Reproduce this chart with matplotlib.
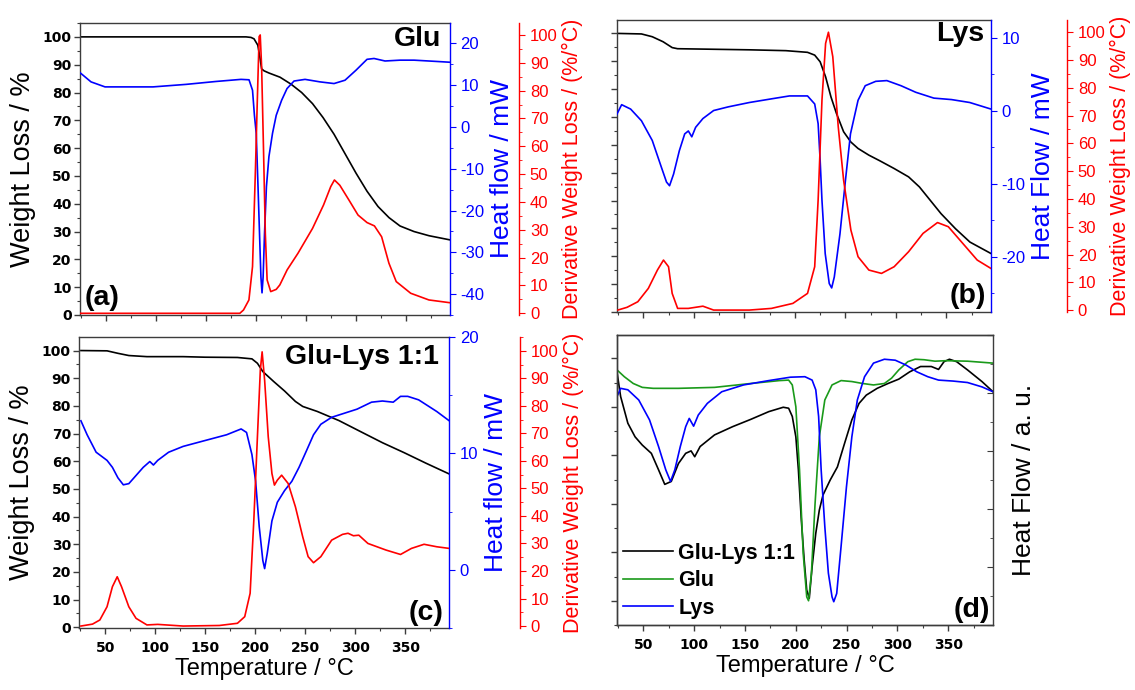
import numpy as np
import matplotlib
matplotlib.use('Agg')
import matplotlib.pyplot as plt
from matplotlib.ticker import MultipleLocator

plt.rcParams['font.family'] = ['Liberation Sans', 'DejaVu Sans']
plt.rcParams['axes.linewidth'] = 1.0
plt.rcParams['axes.unicode_minus'] = False

# =============================================================================
# Data (T in degC)
# =============================================================================

# (a) Glu : TG (%), DSC heat flow (mW), DTG (%/degC)
glu_tg_T = [24, 100, 190, 195, 198, 201.8, 203.8, 205.6, 208, 213, 224, 235, 245.6, 256.5, 267, 278,
            289, 300, 311, 322, 333, 344, 358, 373, 394]
glu_tg = [100, 100, 100, 99.8, 99.3, 97, 92.8, 88.5, 87.8, 87, 85.5, 83, 80, 76, 71, 65,
          58, 51, 44.5, 39, 35, 32, 30, 28.5, 27]
glu_hf_T = [24, 35, 49, 70, 97, 130, 160, 185, 193, 196.5, 198.4, 200.2, 202, 203.5, 204.9, 206,
            207.1, 208.5, 210.4, 212.9, 216.5, 220.2, 225.6, 231, 238, 249, 264, 278, 289, 300,
            311, 318, 329, 344, 358, 380, 394]
glu_hf = [13, 10.8, 9.6, 9.6, 9.6, 10.2, 10.9, 11.4, 11.3, 8.8, 2.8, -1.5, -14.3, -25.5, -35.9, -39.7,
          -35.9, -25.5, -14.3, -7.1, -1.5, 2.8, 6.4, 9.2, 11, 11.4, 10.8, 10.4, 11.2, 13.6,
          16.2, 16.4, 15.8, 16, 16, 15.7, 15.5]
glu_dtg_T = [24, 100, 183.8, 187.5, 192.9, 196.5, 199.5, 201.3, 203.1, 204.2, 205.6, 207.5, 209.3,
             211.1, 214.7, 220.2, 223.8, 231.1, 242, 256.5, 267.5, 274.7, 278.4, 283.8, 292.9,
             302, 311, 318.4, 325.6, 332.9, 340.2, 354.7, 372.9, 394]
glu_dtg = [0, 0, 0, 1.2, 4.8, 16.8, 52.7, 76.6, 99.4, 100, 88.6, 58.7, 28.7,
           12, 7.8, 8.6, 10.2, 15.6, 21.6, 30.5, 38.9, 45.5, 47.9, 46, 40.7,
           35.3, 32.6, 31.4, 27.5, 18, 11.4, 7.2, 4.8, 3.8]

# (b) Lys
lys_tg_T = [23.2, 48.2, 58.9, 69.6, 78.6, 83.9, 119.6, 155.4, 191.1, 212.5, 219.6, 225, 230.4, 235.7,
            241.1, 248.2, 255.4, 262.5, 273.2, 283.9, 298.2, 312.5, 323.2, 333.9, 344.6, 358.9,
            373.2, 394]
lys_tg = [100, 99.8, 98.8, 97, 94.9, 94.5, 94.3, 94.1, 93.8, 93.2, 92.2, 89.8, 84.4, 77.2,
          71.3, 64.7, 61, 58.7, 56.3, 54.3, 51.5, 48.5, 44.9, 40.1, 35.3, 29.9,
          25.1, 21]
lys_hf_T = [23.2, 28.6, 37.5, 48.2, 58.9, 68, 73, 76, 80, 85.7, 91, 94.6, 98, 101.8, 109, 119.6,
            134, 155, 176.8, 194.6, 212.5, 219.6, 223, 225, 226.8, 230, 234, 236.4, 239, 244.6,
            250, 255, 262.5, 269.6, 280, 291, 305, 319.6, 337.5, 355, 373, 394]
lys_hf = [-0.7, 0.8, 0.2, -1.4, -4.1, -7.8, -9.8, -10.3, -8.7, -5.5, -3.2, -2.8, -3.6, -2.3, -1.1, 0,
          0.5, 1.1, 1.6, 2.0, 2.0, 0.9, -1.8, -6.8, -12.3, -19.6, -23.7, -24.3, -22.8, -16.9,
          -9.6, -3.2, 1.4, 3.4, 4.0, 4.1, 3.4, 2.5, 1.7, 1.5, 1.1, 0.2]
lys_dtg_T = [24.8, 34, 44.6, 55, 64, 70, 75, 78.6, 84, 94.6, 109, 119.6, 155, 176.8, 198, 212.5,
             219.6, 223, 226.8, 230.4, 233.2, 237.5, 242.9, 248.2, 255.4, 262.5, 273.2, 285.7,
             298.2, 312.5, 326.8, 341.1, 351.8, 366.1, 380.4, 393.9]
lys_dtg = [0, 1, 3, 7.8, 14.4, 18, 15.6, 6, 0.6, 0.6, 1.4, 0, 0, 0.6, 2.4, 6,
           15.6, 39.6, 75.6, 96, 100, 91.2, 66, 46.8, 28.8, 19.2, 14.4, 13.2,
           15.6, 21, 27.6, 31.5, 30, 24, 18, 15]

# (c) Glu-Lys 1:1
mix_tg_T = [25.7, 51.8, 62.7, 73.6, 91.7, 127.9, 149.6, 182.2, 196.7, 202.2, 207.6, 218.5, 229.3,
            240.2, 247.5, 262, 283.7, 305.4, 327.2, 348.9, 370.7, 394]
mix_tg = [100, 99.9, 99, 98.2, 97.8, 97.8, 97.6, 97.5, 97, 95.4, 92.4, 88.8, 85.4,
          81.6, 79.8, 78, 74.7, 70.7, 66.7, 63.1, 59.3, 55.4]
mix_hf_T = [25.7, 31.9, 40.9, 51.8, 57.2, 62.7, 68.1, 73.6, 80.8, 88, 94.6, 98.2, 102.5, 113.4,
            127.9, 149.6, 171.4, 185.9, 191.3, 196.7, 200.4, 204, 207.6, 209.4, 212, 216.7,
            222.1, 229.3, 236.6, 243.8, 251.1, 258.3, 265.6, 276.4, 287.3, 301.8, 316.3, 327.2,
            338, 345.3, 352.5, 363.4, 381.5, 394]
mix_hf = [12.8, 11.6, 10.1, 9.4, 8.8, 7.9, 7.3, 7.4, 8.1, 8.8, 9.3, 9.0, 9.4, 10.1,
          10.6, 11.1, 11.6, 12.1, 11.8, 9.9, 7.6, 3.7, 0.8, 0.1, 1.4, 4.2,
          5.8, 6.8, 7.6, 8.8, 10.2, 11.6, 12.5, 13.1, 13.4, 13.8, 14.4, 14.5,
          14.4, 14.9, 14.9, 14.6, 13.6, 12.8]
mix_dtg_T = [25.7, 37.3, 44.6, 51.8, 57.2, 62, 66.3, 73.6, 80.8, 91.7, 102.5, 127.9, 164.1, 182.2,
             189.5, 194.9, 198.6, 202.2, 205.1, 206.9, 209.4, 213, 216.7, 219.2, 222.1, 226.4,
             232.9, 240.2, 247.5, 252.9, 258.3, 265.6, 276.4, 287.3, 292.8, 298.2, 303.6, 312.7,
             330.8, 345.3, 356.2, 368.8, 381.5, 394]
mix_dtg = [0, 0.7, 2.2, 7, 14.3, 17.9, 14.3, 7, 2.8, 0.4, 0.6, 0, 0.2, 1,
           3.4, 11.9, 38.5, 68.8, 93, 99.6, 89.3, 68.8, 55.4, 51.2, 53, 54.8,
           51.8, 43.3, 32.4, 25.2, 23, 25.2, 31.2, 33.3, 33.7, 32.8, 33, 30,
           27.6, 26, 28.2, 29.7, 28.8, 28.2]

# (d) DSC comparison, arbitrary units
dsc_mix_T = [24, 27.6, 34.7, 41.8, 48.9, 57.8, 64.9, 71, 77.4, 84.5, 91.6, 96.9, 100.5, 105.8, 120,
             137.8, 155.6, 173.4, 187.6, 192.9, 196.5, 200, 202.5, 205.4, 208.2, 210.7, 213.2, 216,
             219.6, 223.1, 226.7, 233.8, 240.9, 248, 255.1, 262.2, 269.3, 280, 290.7, 301.3, 312,
             322.7, 333.3, 340.4, 345.8, 351.1, 358.2, 368.9, 383.1, 394]
dsc_mix = [4.72, 4.21, 3.66, 3.38, 3.21, 3.04, 2.70, 2.40, 2.46, 2.83, 3.04, 3.09, 2.97, 3.18, 3.42,
           3.59, 3.74, 3.9, 3.99, 3.97, 3.8, 3.38, 2.70, 1.66, 0.84, 0.22, 0.05, 0.70,
           1.39, 1.87, 2.18, 2.49, 2.76, 3.25, 3.73, 4.07, 4.24, 4.38, 4.48, 4.57, 4.72,
           4.83, 4.83, 4.77, 4.93, 4.98, 4.93, 4.76, 4.52, 4.31]
dsc_glu_T = [24, 31.2, 40, 48.9, 59.6, 84.5, 120, 155.6, 184, 192.9, 196.5, 200, 203.6, 207.2, 210.7,
             212.5, 215.3, 218.9, 223.1, 228.5, 235.6, 244.5, 255.1, 265.8, 276.4, 287.1, 294.2,
             301.3, 310.2, 317.3, 326.2, 336.9, 347.5, 368.9, 394]
dsc_glu = [4.76, 4.62, 4.48, 4.40, 4.38, 4.38, 4.40, 4.48, 4.54, 4.55, 4.45, 4.0, 2.70, 0.98, 0.08,
           0.0, 0.56, 2.0, 3.38, 4.14, 4.45, 4.54, 4.52, 4.48, 4.45, 4.48, 4.59,
           4.76, 4.93, 4.98, 4.97, 4.94, 4.95, 4.94, 4.90]
dsc_lys_T = [24, 27.6, 34.7, 45.4, 56, 64.9, 72, 76.7, 80.9, 86.3, 91.6, 95.1, 99.4, 104, 112.9,
             127.1, 148.5, 173.4, 194.7, 208.9, 216, 219.6, 222.4, 224.9, 228.5, 232, 235.6, 237.3,
             240.2, 244.5, 249.8, 255.1, 260.5, 267.6, 276.4, 287.1, 297.8, 308.4, 319.1, 329.8,
             340.4, 354.7, 368.9, 383.1, 394]
dsc_lys = [4.21, 4.38, 4.35, 4.14, 3.73, 3.18, 2.70, 2.46, 2.70, 3.18, 3.59, 3.76, 3.6, 3.83, 4.07,
           4.31, 4.45, 4.54, 4.61, 4.62, 4.55, 4.35, 3.80, 2.70, 1.53, 0.57, 0.08, -0.02,
           0.15, 1.12, 2.35, 3.38, 4.14, 4.62, 4.90, 4.98, 4.96, 4.86, 4.72, 4.62,
           4.55, 4.53, 4.50, 4.41, 4.31]

#%%
# =============================================================================
# Styling helpers
# =============================================================================
BLUE = '#0000ff'
RED = '#ff0000'
GREEN = '#1a9a1a'
AXC = '#3c3c3c'
LW = 1.2


def style_host(ax, ylim, major=10, minor=5, xlabels=False, ylabels=True):
    ax.set_xlim(24, 394)
    ax.set_ylim(*ylim)
    ax.xaxis.set_major_locator(MultipleLocator(50))
    ax.xaxis.set_minor_locator(MultipleLocator(25))
    ax.yaxis.set_major_locator(MultipleLocator(major))
    ax.yaxis.set_minor_locator(MultipleLocator(minor))
    ax.tick_params(which='both', direction='out', top=False, right=False,
                   color=AXC, labelcolor='black', labelsize=10,
                   labelbottom=xlabels, labelleft=ylabels)
    ax.tick_params(which='major', length=4.5, width=1, pad=1.5)
    ax.tick_params(which='minor', length=2.5, width=0.8)
    ax.tick_params(axis='x', pad=5)
    for s in ax.spines.values():
        s.set_color(AXC)
    ax.spines['right'].set_visible(False)
    plt.setp(ax.get_xticklabels() + ax.get_yticklabels(),
             fontfamily='DejaVu Sans', fontweight='bold')


def add_axis(ax, color, ylim, major, minor, offset=0):
    tw = ax.twinx()
    tw.set_ylim(*ylim)
    tw.yaxis.set_major_locator(MultipleLocator(major))
    tw.yaxis.set_minor_locator(MultipleLocator(minor))
    for side in ['left', 'top', 'bottom']:
        tw.spines[side].set_visible(False)
    tw.spines['right'].set_color(color)
    tw.spines['right'].set_position(('outward', offset))
    tw.tick_params(which='both', direction='out', colors=color, labelsize=12)
    tw.tick_params(which='major', length=4.5, pad=3)
    tw.tick_params(which='minor', length=2.5)
    return tw


def panel_tag(ax, txt, x, y, ha, va):
    ax.text(x, y, txt, transform=ax.transAxes, ha=ha, va=va,
            fontsize=20.5, fontweight='bold', zorder=10)


fig = plt.figure(figsize=(11.35, 6.9), dpi=100)

ax_a = fig.add_axes([0.0705, 0.5435, 0.326, 0.4232])
ax_b = fig.add_axes([0.5436, 0.5478, 0.3295, 0.4232])
ax_c = fig.add_axes([0.0698, 0.0899, 0.3260, 0.4217])
ax_d = fig.add_axes([0.5436, 0.0942, 0.3313, 0.4203])

#%%
# =============================================================================
# (a) Glu
# =============================================================================
style_host(ax_a, (0, 105))
ax_a.plot(glu_tg_T, glu_tg, color='black', lw=LW)
ax_a.set_ylabel('Weight Loss / %', fontsize=19.5, labelpad=5)
hf_a = add_axis(ax_a, BLUE, (-45, 24.9), 10, 5)
hf_a.plot(glu_hf_T, glu_hf, color=BLUE, lw=LW)
hf_a.set_ylabel('Heat flow / mW', color=BLUE, fontsize=19, labelpad=4)
dtg_a = add_axis(ax_a, RED, (-0.6, 104.3), 10, 5, offset=50)
dtg_a.plot(glu_dtg_T, glu_dtg, color=RED, lw=LW)
dtg_a.set_ylabel('Derivative Weight Loss / (%/°C)', color=RED, fontsize=15.5, labelpad=3)
panel_tag(ax_a, 'Glu', 0.975, 0.99, 'right', 'top')
panel_tag(ax_a, '(a)', 0.012, 0.012, 'left', 'bottom')

# =============================================================================
# (b) Lys
# =============================================================================
style_host(ax_b, (0, 104.8), ylabels=False)
ax_b.plot(lys_tg_T, lys_tg, color='black', lw=LW)
hf_b = add_axis(ax_b, BLUE, (-27.6, 12.4), 10, 5)
hf_b.plot(lys_hf_T, lys_hf, color=BLUE, lw=LW)
hf_b.set_ylabel('Heat Flow / mW', color=BLUE, fontsize=19, labelpad=4)
dtg_b = add_axis(ax_b, RED, (-0.7, 104.4), 10, 5, offset=55)
dtg_b.plot(lys_dtg_T, lys_dtg, color=RED, lw=LW)
dtg_b.set_ylabel('Derivative Weight Loss / (%/°C)', color=RED, fontsize=15.5, labelpad=3)
panel_tag(ax_b, 'Lys', 0.981, 0.995, 'right', 'top')
panel_tag(ax_b, '(b)', 0.987, 0.012, 'right', 'bottom')

# =============================================================================
# (c) Glu-Lys 1:1
# =============================================================================
style_host(ax_c, (-0.25, 104.9), xlabels=True)
ax_c.plot(mix_tg_T, mix_tg, color='black', lw=LW)
ax_c.set_ylabel('Weight Loss / %', fontsize=19.5, labelpad=5)
ax_c.set_xlabel('Temperature / °C', fontsize=17, labelpad=2)
hf_c = add_axis(ax_c, BLUE, (-5, 20), 10, 5)
hf_c.plot(mix_hf_T, mix_hf, color=BLUE, lw=LW)
hf_c.set_ylabel('Heat flow / mW', color=BLUE, fontsize=19, labelpad=4)
dtg_c = add_axis(ax_c, RED, (-0.7, 105), 10, 5, offset=51)
dtg_c.plot(mix_dtg_T, mix_dtg, color=RED, lw=LW)
dtg_c.set_ylabel('Derivative Weight Loss / (%/°C)', color=RED, fontsize=15.5, labelpad=3)
panel_tag(ax_c, 'Glu-Lys 1:1', 0.973, 0.975, 'right', 'top')
panel_tag(ax_c, '(c)', 0.984, 0.008, 'right', 'bottom')

# =============================================================================
# (d) DSC comparison
# =============================================================================
style_host(ax_d, (-0.5, 5.48), major=1, minor=0.5, xlabels=True, ylabels=False)
ax_d.plot(dsc_mix_T, dsc_mix, color='black', lw=LW, label='Glu-Lys 1:1')
ax_d.plot(dsc_glu_T, dsc_glu, color=GREEN, lw=LW, label='Glu')
ax_d.plot(dsc_lys_T, dsc_lys, color=BLUE, lw=LW, label='Lys')
ax_d.set_xlabel('Temperature / °C', fontsize=17, labelpad=2)
au_d = ax_d.twinx()
au_d.set_ylim(0, 5)
au_d.yaxis.set_major_locator(MultipleLocator(1))
au_d.yaxis.set_minor_locator(MultipleLocator(0.5))
au_d.tick_params(which='both', direction='in', color=AXC, labelright=False)
au_d.tick_params(which='major', length=4.5)
au_d.tick_params(which='minor', length=2.5)
for s in au_d.spines.values():
    s.set_color(AXC)
au_d.set_ylabel('Heat Flow / a. u.', fontsize=19, labelpad=14)
ax_d.legend(loc='lower left', frameon=False, handlelength=2.3, handletextpad=0.25,
            labelspacing=0.3, borderpad=0.2, borderaxespad=0.1,
            prop={'family': 'Liberation Sans', 'weight': 'bold', 'size': 15.5})
panel_tag(ax_d, '(d)', 0.992, 0.008, 'right', 'bottom')

plt.savefig('out.png', dpi=100)
